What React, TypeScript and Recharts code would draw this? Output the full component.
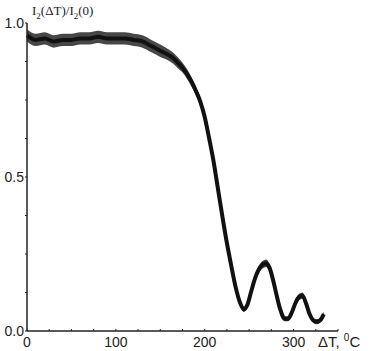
import {
  ComposedChart,
  Area,
  Line,
  XAxis,
  YAxis,
} from "recharts";

// ΔT (°C) sample points
const temps = [
  0, 10, 20, 30, 40, 50, 60, 70, 80, 90, 100, 110, 120, 130, 140, 150, 160,
  165, 170, 175, 180, 185, 190, 195, 200, 205, 210, 215, 220, 225, 230, 235,
  240, 244, 248, 252, 256, 260, 265, 269, 273, 277, 281, 285, 290, 294, 298,
  302, 306, 310, 314, 318, 322, 326, 330, 334,
];

// I2(ΔT)/I2(0), centre of the noisy band
const ratio = [
  0.96, 0.945, 0.95, 0.94, 0.945, 0.945, 0.95, 0.95, 0.955, 0.95, 0.95, 0.95,
  0.945, 0.94, 0.925, 0.91, 0.895, 0.885, 0.87, 0.855, 0.835, 0.81, 0.78,
  0.745, 0.695, 0.625, 0.55, 0.46, 0.37, 0.285, 0.21, 0.14, 0.09, 0.07, 0.085,
  0.125, 0.165, 0.195, 0.215, 0.22, 0.205, 0.165, 0.115, 0.07, 0.04, 0.04,
  0.06, 0.09, 0.11, 0.115, 0.09, 0.055, 0.035, 0.03, 0.035, 0.055,
];

// half-width of the scatter band
const spread = [
  0.02, 0.02, 0.02, 0.02, 0.02, 0.02, 0.02, 0.02, 0.02, 0.02, 0.02, 0.02,
  0.02, 0.02, 0.02, 0.02, 0.018, 0.018, 0.018, 0.016, 0.016, 0.015, 0.014,
  0.013, 0.012, 0.01, 0.008, 0.008, 0.008, 0.008, 0.008, 0.008, 0.008, 0.008,
  0.008, 0.01, 0.012, 0.012, 0.012, 0.012, 0.012, 0.01, 0.008, 0.008, 0.008,
  0.008, 0.008, 0.01, 0.01, 0.01, 0.01, 0.008, 0.008, 0.008, 0.008, 0.008,
];

const xTicks = [0, 25, 50, 75, 100, 125, 150, 175, 200, 225, 250, 275, 300, 325, 350];
const xLabels = [0, 100, 200, 300];
const yTicks = [0, 0.125, 0.25, 0.375, 0.5, 0.625, 0.75, 0.875, 1];
const yLabels = [0, 0.5, 1];

const data = temps.map((t, i) => ({
  t,
  v: ratio[i],
  band: [ratio[i] - spread[i], ratio[i] + spread[i]],
}));

const XTick = (props: any) => {
  const { x, y, payload } = props;
  const show = xLabels.includes(payload.value);
  return (
    <g>
      <line x1={x} y1={y} x2={x} y2={y - 2} stroke="#222" strokeWidth={1} />
      {show && (
        <text
          x={x}
          y={y + 16}
          textAnchor="middle"
          fontSize={14}
          fontFamily="Liberation Sans, Arial"
          fill="#222"
        >
          {payload.value}
        </text>
      )}
    </g>
  );
};

const YTick = (props: any) => {
  const { x, y, payload } = props;
  const show = yLabels.includes(payload.value);
  return (
    <g>
      <line x1={x} y1={y} x2={x - 2} y2={y} stroke="#222" strokeWidth={1} />
      {show && (
        <text
          x={x - 3}
          y={y + 5}
          textAnchor="end"
          fontSize={14}
          fontFamily="Liberation Sans, Arial"
          fill="#222"
        >
          {payload.value.toFixed(1)}
        </text>
      )}
    </g>
  );
};

export default function App() {
  return (
    <div
      style={{
        position: "absolute",
        left: 0,
        top: 0,
        width: 369,
        height: 351,
        background: "#fff",
      }}
    >
      <ComposedChart
        width={369}
        height={351}
        data={data}
        margin={{ top: 23, right: 31, left: 0, bottom: 0 }}
      >
        <XAxis
          type="number"
          dataKey="t"
          domain={[0, 350]}
          ticks={xTicks}
          interval={0}
          height={20}
          tickSize={0}
          tickMargin={0}
          tickLine={false}
          tick={<XTick />}
          axisLine={{ stroke: "#222", strokeWidth: 1.5 }}
        />
        <YAxis
          type="number"
          domain={[0, 1]}
          ticks={yTicks}
          interval={0}
          width={27}
          tickSize={0}
          tickMargin={0}
          tickLine={false}
          tick={<YTick />}
          axisLine={{ stroke: "#222", strokeWidth: 1.5 }}
        />
        <Area
          type="monotone"
          dataKey="band"
          stroke="none"
          fill="#333"
          fillOpacity={0.9}
          isAnimationActive={false}
        />
        <Line
          type="monotone"
          dataKey="v"
          stroke="#111"
          strokeWidth={4}
          dot={false}
          isAnimationActive={false}
        />
      </ComposedChart>
      <div
        style={{
          position: "absolute",
          left: 32,
          top: 3,
          fontFamily: "Liberation Serif, Times New Roman",
          fontSize: 13,
          color: "#222",
          whiteSpace: "nowrap",
        }}
      >
        I<sub style={{ fontSize: 9 }}>2</sub>(ΔT)/I<sub style={{ fontSize: 9 }}>2</sub>(0)
      </div>
      <div
        style={{
          position: "absolute",
          left: 318,
          top: 332,
          fontFamily: "Liberation Sans, Arial",
          fontSize: 15,
          color: "#222",
          whiteSpace: "nowrap",
        }}
      >
        ΔT, <sup style={{ fontSize: 10 }}>0</sup>C
      </div>
    </div>
  );
}
